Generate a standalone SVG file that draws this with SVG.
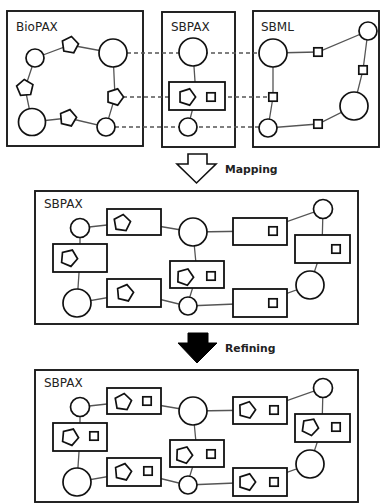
<svg xmlns="http://www.w3.org/2000/svg" xmlns:xlink="http://www.w3.org/1999/xlink" width="381" height="504" viewBox="0 0 381 504">
<style>
.box{fill:#fff;stroke:#1a1a1a;stroke-width:1.9}
.n{fill:#fff;stroke:#111;stroke-width:1.7}
.r{fill:#fff;stroke:#111;stroke-width:1.8}
.e{stroke:#555;stroke-width:1.3;fill:none}
.d{stroke:#555;stroke-width:1.3;fill:none;stroke-dasharray:4 3}
.t{font-family:"DejaVu Sans",sans-serif;font-size:12px;fill:#222}
.tb{font-family:"DejaVu Sans",sans-serif;font-size:10.8px;font-weight:bold;fill:#222}
</style>
<defs>
<polygon id="pent" points="0,-8.6 8.18,-2.66 5.06,6.96 -5.06,6.96 -8.18,-2.66" fill="#fff" stroke="#111" stroke-width="1.7"/>
<rect id="sq" x="-4.2" y="-4.2" width="8.4" height="8.4" fill="#fff" stroke="#111" stroke-width="1.7"/>
</defs>
<rect width="381" height="504" fill="#fff"/>

<g id="panel-biopax"><rect class="box" x="7" y="11" width="136" height="135"/><text class="t" x="16" y="31">BioPAX</text></g>
<g id="panel-sbpax-top"><rect class="box" x="162" y="12" width="73" height="135"/><text class="t" x="171" y="31">SBPAX</text></g>
<g id="panel-sbml"><rect class="box" x="253" y="11" width="126" height="136"/><text class="t" x="261" y="31">SBML</text></g>
<g id="panel-sbpax-mid"><rect class="box" x="35" y="191" width="323" height="133"/><text class="t" x="44" y="208">SBPAX</text></g>
<g id="panel-sbpax-bot"><rect class="box" x="35" y="370" width="323" height="132"/><text class="t" x="44" y="387">SBPAX</text></g>

<g id="connectors">
<path class="d" d="M127,53H259M123,97H269M115,127H259"/>
<path class="e" d="M35,58L70,45L113,53M35,58L25,88L32,122L68,118L106,127L115,97L113,53"/>
<path class="e" d="M193,52L196,96L188,127"/>
<path class="e" d="M273,53L318,52L368,31L363,70L354,106L318,124L268,128L273,97L273,53"/>
<path class="e" d="M80,228L134,222L193,232L260,231L323,209L322,249L310,285L260,303L187,306L134,293L77,303L80,258L80,228M193,232L197,274L187,306"/>
<path class="e" d="M80,407L134,401L193,411L260,410L323,388L322,428L310,464L260,482L187,485L134,472L77,482L80,437L80,407M193,411L197,453L187,485"/>
</g>

<g id="biopax-nodes">
<circle class="n" cx="35" cy="58" r="9"/>
<use xlink:href="#pent" transform="translate(70,45) rotate(10)"/>
<circle class="n" cx="113" cy="53" r="14"/>
<use xlink:href="#pent" transform="translate(25,88) rotate(-5)"/>
<use xlink:href="#pent" transform="translate(115,97) rotate(90)"/>
<circle class="n" cx="32" cy="122" r="13.5"/>
<use xlink:href="#pent" transform="translate(68,118) rotate(85)"/>
<circle class="n" cx="106" cy="127" r="9"/>
</g>
<g id="sbpax-top-nodes">
<circle class="n" cx="193" cy="52" r="14"/>
<rect class="r" x="169" y="82" width="56" height="28"/>
<use xlink:href="#pent" transform="translate(187,97) rotate(90)"/>
<use xlink:href="#sq" transform="translate(211,97)"/>
<circle class="n" cx="188" cy="127" r="9"/>
</g>
<g id="sbml-nodes">
<circle class="n" cx="273" cy="53" r="14"/>
<use xlink:href="#sq" transform="translate(318,52)"/>
<circle class="n" cx="368" cy="31" r="9"/>
<use xlink:href="#sq" transform="translate(363,70)"/>
<circle class="n" cx="354" cy="106" r="14"/>
<use xlink:href="#sq" transform="translate(318,124)"/>
<circle class="n" cx="268" cy="128" r="9"/>
<use xlink:href="#sq" transform="translate(273,97)"/>
</g>

<g id="arrow-mapping">
<polygon points="188,154 207,154 207,164 216,164 196.5,183 177,164 188,164" fill="#fff" stroke="#111" stroke-width="1.6"/>
<text class="tb" x="225" y="173">Mapping</text>
</g>
<g id="arrow-refining">
<polygon points="188,333 208,333 208,343 217,343 197,363 178,343 188,343" fill="#000" stroke="#000" stroke-width="1"/>
<text class="tb" x="225" y="352">Refining</text>
</g>

<g id="mid-nodes">
<circle class="n" cx="80" cy="228" r="9.5"/>
<rect class="r" x="107" y="209" width="54" height="26"/>
<use xlink:href="#pent" transform="translate(122,223) rotate(80)"/>
<circle class="n" cx="193" cy="232" r="14"/>
<rect class="r" x="53" y="244" width="54" height="28"/>
<use xlink:href="#pent" transform="translate(69,258) rotate(95)"/>
<circle class="n" cx="77" cy="303" r="14"/>
<rect class="r" x="107" y="279" width="54" height="28"/>
<use xlink:href="#pent" transform="translate(125,293) rotate(85)"/>
<rect class="r" x="170" y="261" width="54" height="27"/>
<use xlink:href="#pent" transform="translate(185,277) rotate(92)"/>
<use xlink:href="#sq" transform="translate(211,276)"/>
<circle class="n" cx="188" cy="306" r="9"/>
<rect class="r" x="233" y="218" width="54" height="27"/>
<use xlink:href="#sq" transform="translate(273,231)"/>
<circle class="n" cx="323" cy="209" r="9.5"/>
<rect class="r" x="295" y="235" width="55" height="28"/>
<use xlink:href="#sq" transform="translate(336,249)"/>
<circle class="n" cx="310" cy="285" r="14"/>
<rect class="r" x="233" y="289" width="54" height="28"/>
<use xlink:href="#sq" transform="translate(273,303)"/>
</g>

<g id="bot-nodes">
<circle class="n" cx="80" cy="407" r="9.5"/>
<rect class="r" x="107" y="388" width="54" height="26"/>
<use xlink:href="#pent" transform="translate(123,402) rotate(80)"/>
<use xlink:href="#sq" transform="translate(147,401)"/>
<circle class="n" cx="193" cy="411" r="14"/>
<rect class="r" x="53" y="423" width="54" height="28"/>
<use xlink:href="#pent" transform="translate(70,437) rotate(95)"/>
<use xlink:href="#sq" transform="translate(94,436)"/>
<circle class="n" cx="77" cy="482" r="14"/>
<rect class="r" x="107" y="458" width="54" height="28"/>
<use xlink:href="#pent" transform="translate(123,472) rotate(85)"/>
<use xlink:href="#sq" transform="translate(148,471)"/>
<rect class="r" x="170" y="440" width="54" height="27"/>
<use xlink:href="#pent" transform="translate(184,455) rotate(92)"/>
<use xlink:href="#sq" transform="translate(211,454)"/>
<circle class="n" cx="188" cy="485" r="9"/>
<rect class="r" x="233" y="397" width="54" height="27"/>
<use xlink:href="#pent" transform="translate(247,410) rotate(88)"/>
<use xlink:href="#sq" transform="translate(274,410)"/>
<circle class="n" cx="323" cy="388" r="9.5"/>
<rect class="r" x="295" y="414" width="55" height="28"/>
<use xlink:href="#pent" transform="translate(310,427) rotate(98)"/>
<use xlink:href="#sq" transform="translate(336,427)"/>
<circle class="n" cx="310" cy="464" r="14"/>
<rect class="r" x="233" y="468" width="54" height="28"/>
<use xlink:href="#pent" transform="translate(247,482) rotate(90)"/>
<use xlink:href="#sq" transform="translate(274,482)"/>
</g>
</svg>
